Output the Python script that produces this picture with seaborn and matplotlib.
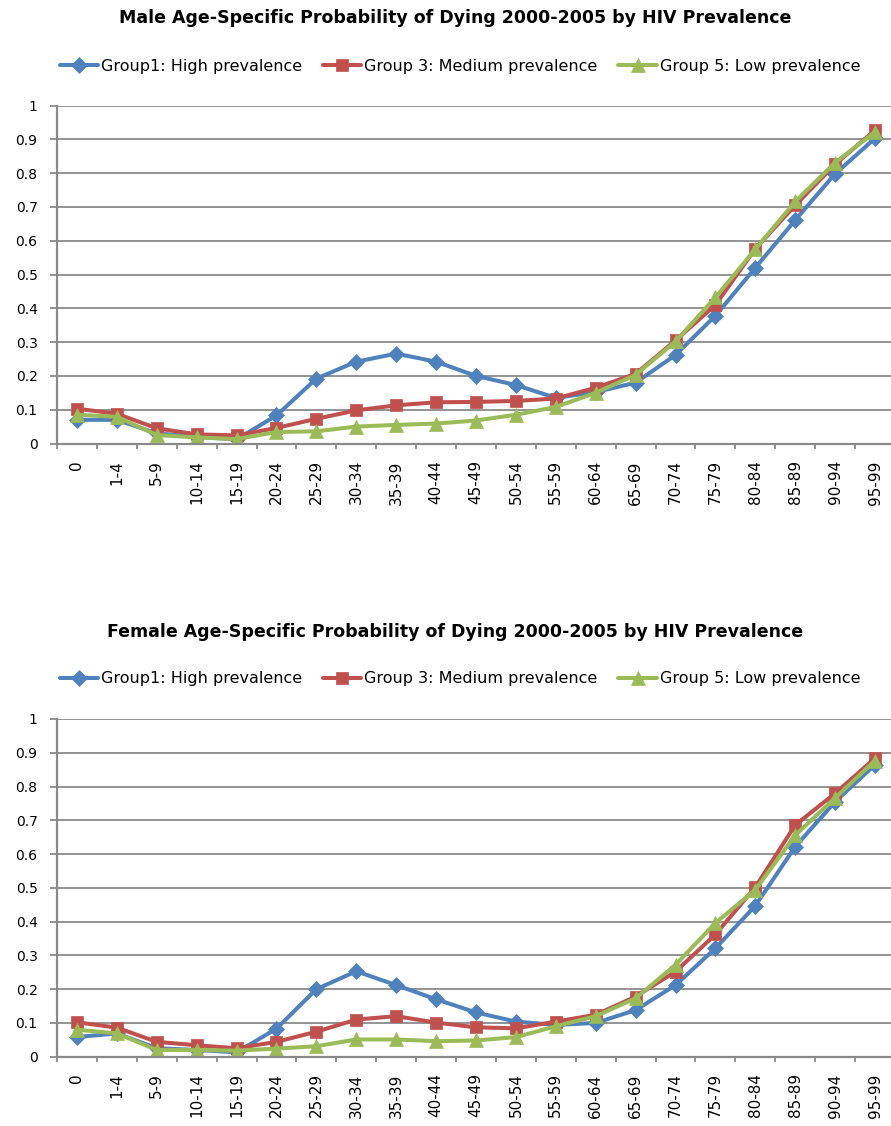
import matplotlib
matplotlib.use("Agg")
import matplotlib.pyplot as plt
import numpy as np
import pandas as pd
import seaborn as sns

# Age groups on the x axis
ages = ["0", "1-4", "5-9", "10-14", "15-19", "20-24", "25-29", "30-34", "35-39",
        "40-44", "45-49", "50-54", "55-59", "60-64", "65-69", "70-74", "75-79",
        "80-84", "85-89", "90-94", "95-99"]

groups = ["Group1: High prevalence", "Group 3: Medium prevalence", "Group 5: Low prevalence"]

# Male probability of dying, 2000-2005
male_high = [0.070, 0.070, 0.030, 0.020, 0.012, 0.083, 0.192, 0.242, 0.266, 0.242, 0.200,
             0.173, 0.135, 0.152, 0.180, 0.262, 0.378, 0.520, 0.661, 0.798, 0.903]
male_medium = [0.103, 0.088, 0.045, 0.027, 0.024, 0.046, 0.073, 0.098, 0.113, 0.122, 0.123,
               0.126, 0.133, 0.165, 0.206, 0.305, 0.410, 0.576, 0.705, 0.826, 0.927]
male_low = [0.085, 0.079, 0.025, 0.018, 0.013, 0.034, 0.036, 0.050, 0.055, 0.059, 0.068,
            0.085, 0.108, 0.150, 0.203, 0.302, 0.432, 0.575, 0.716, 0.831, 0.922]

# Female probability of dying, 2000-2005
female_high = [0.058, 0.069, 0.025, 0.020, 0.013, 0.083, 0.200, 0.253, 0.212, 0.170, 0.131,
               0.104, 0.094, 0.100, 0.138, 0.212, 0.321, 0.447, 0.622, 0.755, 0.865]
female_medium = [0.102, 0.086, 0.044, 0.034, 0.025, 0.044, 0.074, 0.110, 0.120, 0.101, 0.087,
                 0.084, 0.104, 0.124, 0.178, 0.252, 0.362, 0.502, 0.686, 0.780, 0.884]
female_low = [0.080, 0.069, 0.020, 0.020, 0.018, 0.024, 0.031, 0.051, 0.051, 0.046, 0.048,
              0.058, 0.090, 0.120, 0.173, 0.272, 0.396, 0.494, 0.656, 0.766, 0.877]

y_ticks = [0, 0.1, 0.2, 0.3, 0.4, 0.5, 0.6, 0.7, 0.8, 0.9, 1]
y_tick_labels = ["0", "0.1", "0.2", "0.3", "0.4", "0.5", "0.6", "0.7", "0.8", "0.9", "1"]

colors = ["#4F81BD", "#C0504D", "#9BBB59"]
markers = ["D", "s", "^"]
marker_sizes = {"D": 8, "s": 9, "^": 10}
GRID = "#8a8a8a"

sns.set_theme(style="white")
plt.rcParams["font.family"] = ["DejaVu Sans"]
plt.rcParams["text.color"] = "black"
plt.rcParams["xtick.color"] = "black"
plt.rcParams["ytick.color"] = "black"


def long_frame(high, medium, low):
    frames = []
    for name, vals in zip(groups, [high, medium, low]):
        frames.append(pd.DataFrame({"age": ages, "prob": vals, "group": name}))
    return pd.concat(frames, ignore_index=True)


def draw_panel(fig, ax, df, title, title_y, legend_y):
    sns.pointplot(data=df, x="age", y="prob", hue="group", order=ages,
                  hue_order=groups, palette=colors, markers=markers,
                  linestyles="-", errorbar=None, ax=ax,
                  linewidth=2.9, markersize=8)
    for line in ax.lines:
        m = line.get_marker()
        if m in marker_sizes:
            line.set_markersize(marker_sizes[m])
            line.set_markeredgewidth(0.5)
            line.set_solid_joinstyle("round")

    ax.set_xlim(-0.5, len(ages) - 0.5)
    ax.set_ylim(0, 1)
    ax.set_yticks(y_ticks)
    ax.set_yticklabels(y_tick_labels, fontsize=10)
    ax.set_xticks(range(len(ages)))
    ax.set_xticklabels(ages, rotation=90, fontsize=11, va="top", ha="center")
    ax.set_xticks(np.arange(-0.5, len(ages), 1.0), minor=True)
    ax.set_xlabel("")
    ax.set_ylabel("")

    ax.yaxis.grid(True, color=GRID, linewidth=1.3)
    ax.xaxis.grid(False)
    ax.set_axisbelow(True)
    for side in ["top", "right"]:
        ax.spines[side].set_visible(False)
    for side in ["left", "bottom"]:
        ax.spines[side].set_visible(True)
        ax.spines[side].set_color(GRID)
        ax.spines[side].set_linewidth(1.6)

    ax.tick_params(axis="y", which="major", direction="out", length=5, width=1.3,
                   color=GRID, pad=9, labelcolor="black", left=True)
    ax.tick_params(axis="x", which="major", length=0, pad=12, labelcolor="black")
    ax.tick_params(axis="x", which="minor", direction="out", length=3.5, width=1.3,
                   color=GRID, bottom=True)

    handles, labels = ax.get_legend_handles_labels()
    if ax.get_legend() is not None:
        ax.get_legend().remove()
    fig.legend(handles, labels, loc="center", bbox_to_anchor=(460 / 891, legend_y),
               ncol=3, frameon=False, fontsize=11.5, handlelength=2.4,
               handletextpad=0.2, columnspacing=1.3, labelcolor="black")

    fig.text(455 / 891, title_y, title, ha="center", va="center",
             fontsize=12.5, fontweight="bold", color="black")


fig = plt.figure(figsize=(8.91, 11.26), dpi=100)
fig.patch.set_facecolor("white")

ax_male = fig.add_axes([57 / 891, 1 - 443.5 / 1126, 838 / 891, (443.5 - 105.5) / 1126])
ax_female = fig.add_axes([57 / 891, 1 - 1056.7 / 1126, 838 / 891, (1056.7 - 719.0) / 1126])

draw_panel(fig, ax_male, long_frame(male_high, male_medium, male_low),
           "Male Age-Specific Probability of Dying 2000-2005 by HIV Prevalence",
           1 - 18 / 1126, 1 - 66 / 1126)
draw_panel(fig, ax_female, long_frame(female_high, female_medium, female_low),
           "Female Age-Specific Probability of Dying 2000-2005 by HIV Prevalence",
           1 - 632 / 1126, 1 - 679 / 1126)

fig.savefig("out.png", dpi=100, facecolor="white")
